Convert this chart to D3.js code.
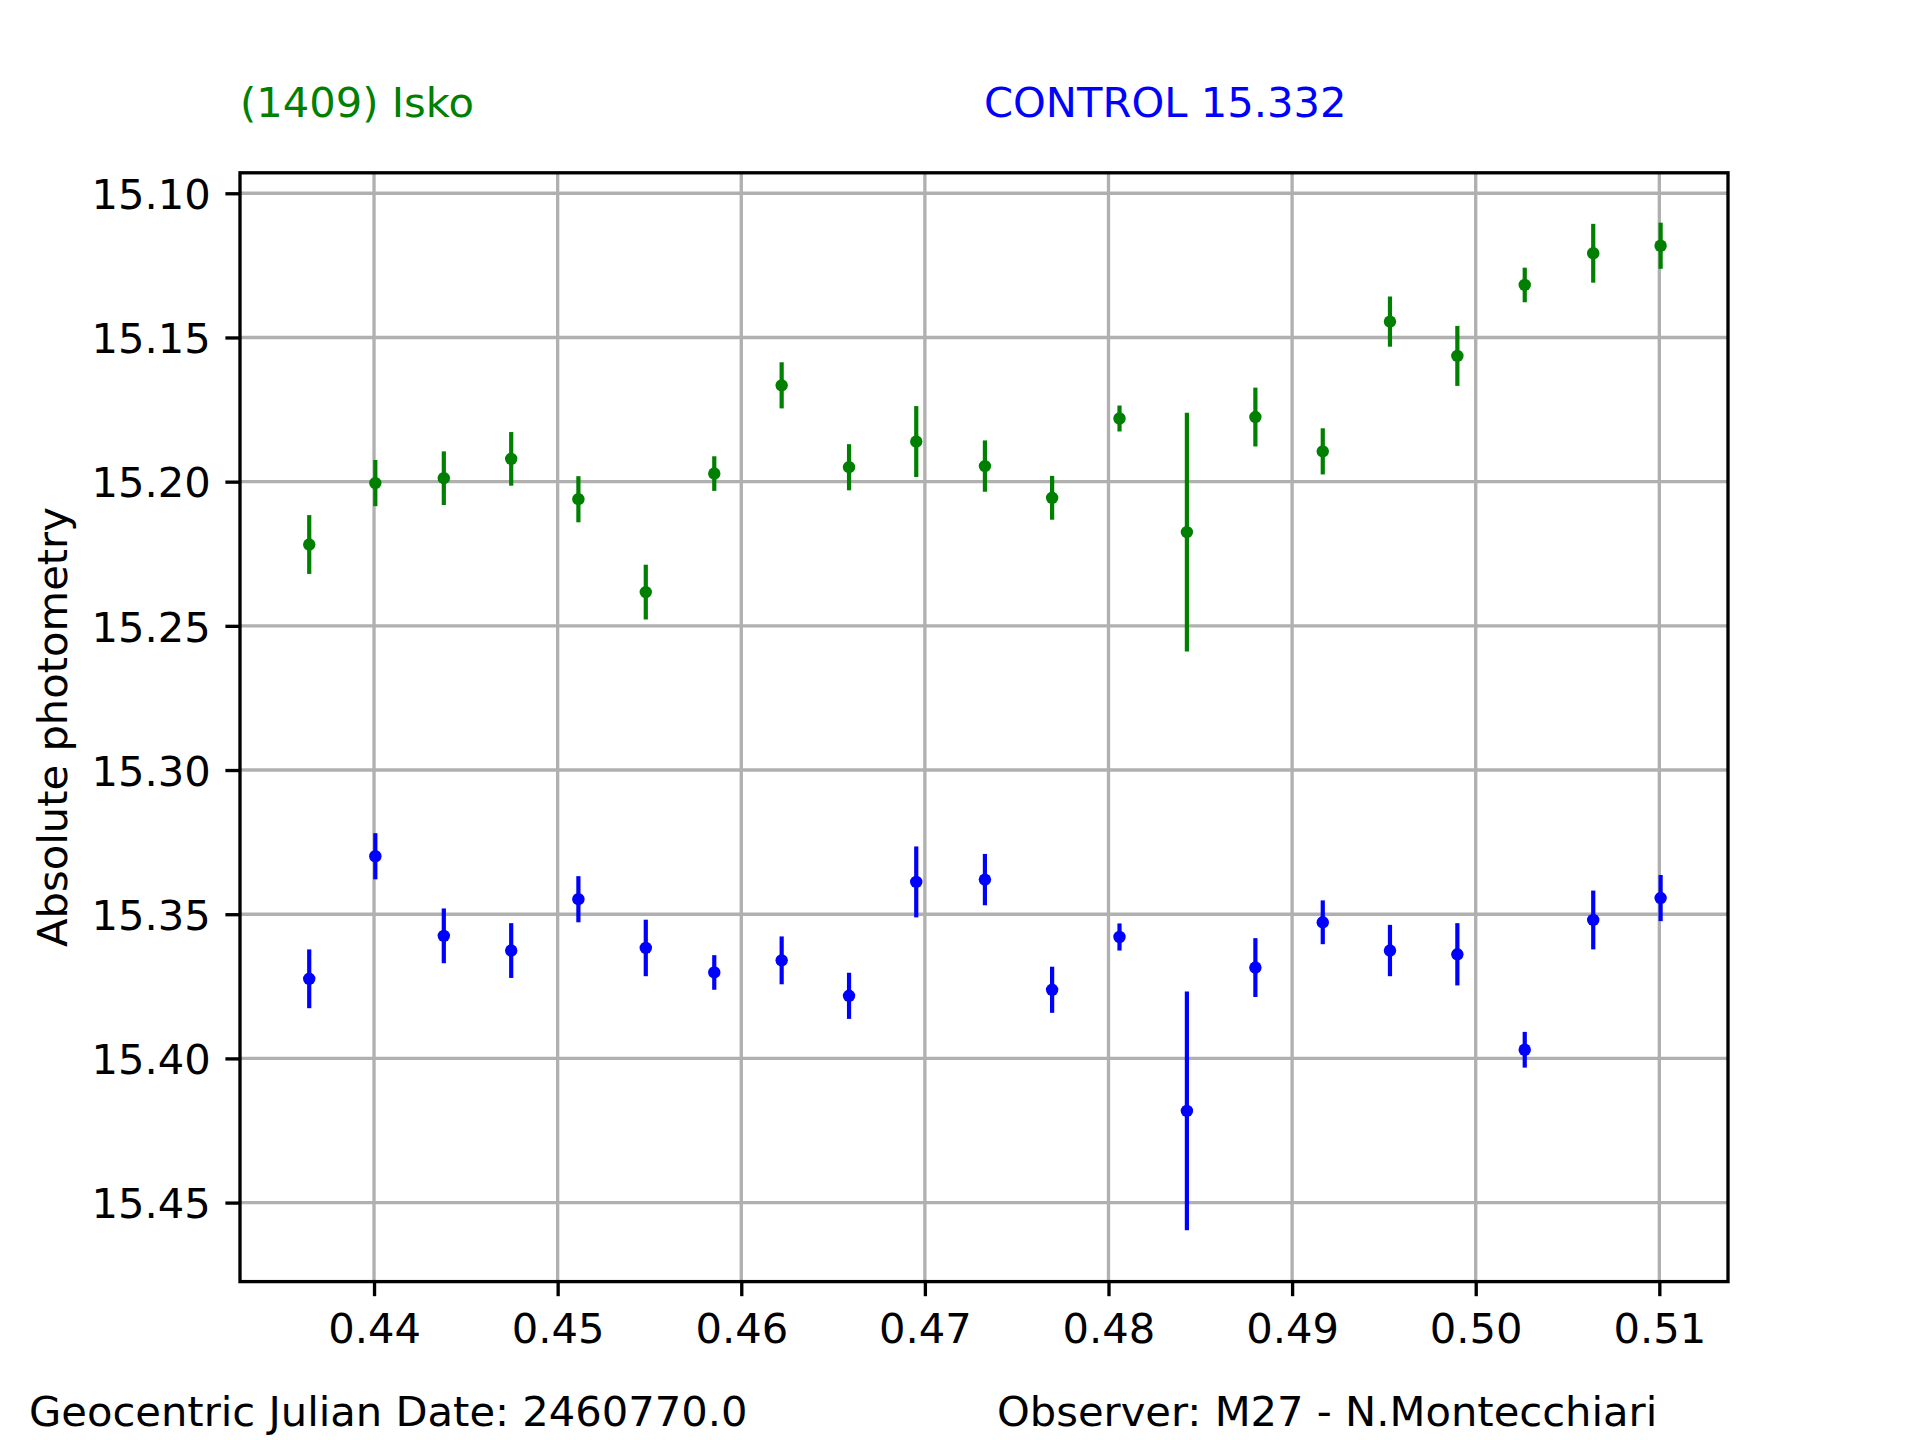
<!DOCTYPE html>
<html>
<head>
<meta charset="utf-8">
<script src="https://cdn.jsdelivr.net/npm/d3@7"></script>
<style>
  body { margin: 0; background: #fff; }
  text { font-family: "DejaVu Sans", sans-serif; }
</style>
</head>
<body>
<script>
// observation times (fraction of day after JD 2460770.0)
var jd = [0.43647, 0.44007, 0.44380, 0.44747, 0.45113, 0.45480, 0.45853,
          0.46220, 0.46587, 0.46953, 0.47327, 0.47693, 0.48060, 0.48427,
          0.48800, 0.49167, 0.49533, 0.49900, 0.50267, 0.50640, 0.51007];

// (1409) Isko magnitudes and errors
var iskoMag = [15.2218, 15.2005, 15.1988, 15.1921, 15.2061, 15.2383, 15.1972,
               15.1666, 15.1950, 15.1861, 15.1946, 15.2056, 15.1781, 15.2175,
               15.1776, 15.1895, 15.1445, 15.1564, 15.1318, 15.1208, 15.1182];
var iskoErr = [0.0102, 0.0080, 0.0093, 0.0093, 0.0080, 0.0095, 0.0060,
               0.0080, 0.0080, 0.0123, 0.0089, 0.0076, 0.0045, 0.0414,
               0.0102, 0.0080, 0.0087, 0.0104, 0.0060, 0.0102, 0.0080];

// control star magnitudes and errors
var controlMag = [15.3724, 15.3299, 15.3575, 15.3626, 15.3448, 15.3617, 15.3702,
                  15.3660, 15.3783, 15.3388, 15.3380, 15.3762, 15.3579, 15.4182,
                  15.3685, 15.3528, 15.3626, 15.3639, 15.3970, 15.3520, 15.3444];
var controlErr = [0.0102, 0.0080, 0.0095, 0.0095, 0.0080, 0.0098, 0.0060,
                  0.0083, 0.0080, 0.0123, 0.0089, 0.0080, 0.0047, 0.0414,
                  0.0102, 0.0076, 0.0089, 0.0108, 0.0062, 0.0102, 0.0080];

var xTicks = [0.44, 0.45, 0.46, 0.47, 0.48, 0.49, 0.50, 0.51];
var yTicks = [15.10, 15.15, 15.20, 15.25, 15.30, 15.35, 15.40, 15.45];

var width = 1920,
    height = 1440;

//plot area edges
var pLeft = 240, pRight = 1728, pTop = 172.8, pBottom = 1281.6;
var fs = 41.67;

var svg = d3.select("body")
    .append("svg")
    .attr("width", width)
    .attr("height", height);

var x = d3.scaleLinear()
    .domain([0.43270, 0.51374])
    .range([pLeft, pRight]);

var y = d3.scaleLinear()
    .domain([15.0929, 15.4774])
    .range([pTop, pBottom]);

//grid lines
svg.append("g")
    .selectAll("line")
    .data(xTicks)
    .enter()
    .append("line")
    .attr("x1", function(d){ return x(d); })
    .attr("x2", function(d){ return x(d); })
    .attr("y1", pTop)
    .attr("y2", pBottom)
    .attr("stroke", "#b0b0b0")
    .attr("stroke-width", 3.33);

svg.append("g")
    .selectAll("line")
    .data(yTicks)
    .enter()
    .append("line")
    .attr("x1", pLeft)
    .attr("x2", pRight)
    .attr("y1", function(d){ return y(d); })
    .attr("y2", function(d){ return y(d); })
    .attr("stroke", "#b0b0b0")
    .attr("stroke-width", 3.33);

//error bars plus dots for one series
function drawSeries(mag, err, color){
    var g = svg.append("g");
    g.selectAll("line")
        .data(mag)
        .enter()
        .append("line")
        .attr("x1", function(d, i){ return x(jd[i]); })
        .attr("x2", function(d, i){ return x(jd[i]); })
        .attr("y1", function(d, i){ return y(d - err[i]); })
        .attr("y2", function(d, i){ return y(d + err[i]); })
        .attr("stroke", color)
        .attr("stroke-width", 4.2);
    g.selectAll("circle")
        .data(mag)
        .enter()
        .append("circle")
        .attr("cx", function(d, i){ return x(jd[i]); })
        .attr("cy", function(d){ return y(d); })
        .attr("r", 6.2)
        .attr("fill", color);
}
drawSeries(iskoMag, iskoErr, "#008000");
drawSeries(controlMag, controlErr, "#0000ff");

//axes
var xAxis = svg.append("g")
    .attr("transform", "translate(0," + pBottom + ")")
    .call(d3.axisBottom(x).tickValues(xTicks).tickFormat(d3.format(".2f"))
        .tickSize(14.6).tickPadding(14.6));

var yAxis = svg.append("g")
    .attr("transform", "translate(" + pLeft + ",0)")
    .call(d3.axisLeft(y).tickValues(yTicks).tickFormat(d3.format(".2f"))
        .tickSize(14.6).tickPadding(14.6));

[xAxis, yAxis].forEach(function(a){
    a.select(".domain").remove();
    a.selectAll(".tick line").attr("stroke", "#000").attr("stroke-width", 3.33);
    a.selectAll(".tick text")
        .attr("fill", "#000")
        .style("font-family", "'DejaVu Sans', sans-serif")
        .style("font-size", fs + "px");
});
xAxis.selectAll(".tick text").attr("dy", null).attr("y", 61.1);
yAxis.selectAll(".tick text").attr("dy", null).attr("y", 15.2);

//frame
svg.append("rect")
    .attr("x", pLeft)
    .attr("y", pTop)
    .attr("width", pRight - pLeft)
    .attr("height", pBottom - pTop)
    .attr("fill", "none")
    .attr("stroke", "#000")
    .attr("stroke-width", 3.33);

//y label
svg.append("text")
    .attr("transform", "translate(67,727) rotate(-90)")
    .attr("text-anchor", "middle")
    .style("font-size", fs + "px")
    .text("Absolute photometry");

//header and footer texts
svg.append("text")
    .attr("x", 240).attr("y", 117)
    .attr("fill", "#008000")
    .style("font-size", fs + "px")
    .text("(1409) Isko");

svg.append("text")
    .attr("x", 984).attr("y", 117)
    .attr("fill", "#0000ff")
    .style("font-size", fs + "px")
    .text("CONTROL 15.332");

svg.append("text")
    .attr("x", 29).attr("y", 1426)
    .style("font-size", fs + "px")
    .text("Geocentric Julian Date: 2460770.0");

svg.append("text")
    .attr("x", 997).attr("y", 1426)
    .style("font-size", fs + "px")
    .text("Observer: M27 - N.Montecchiari");
</script>
</body>
</html>
